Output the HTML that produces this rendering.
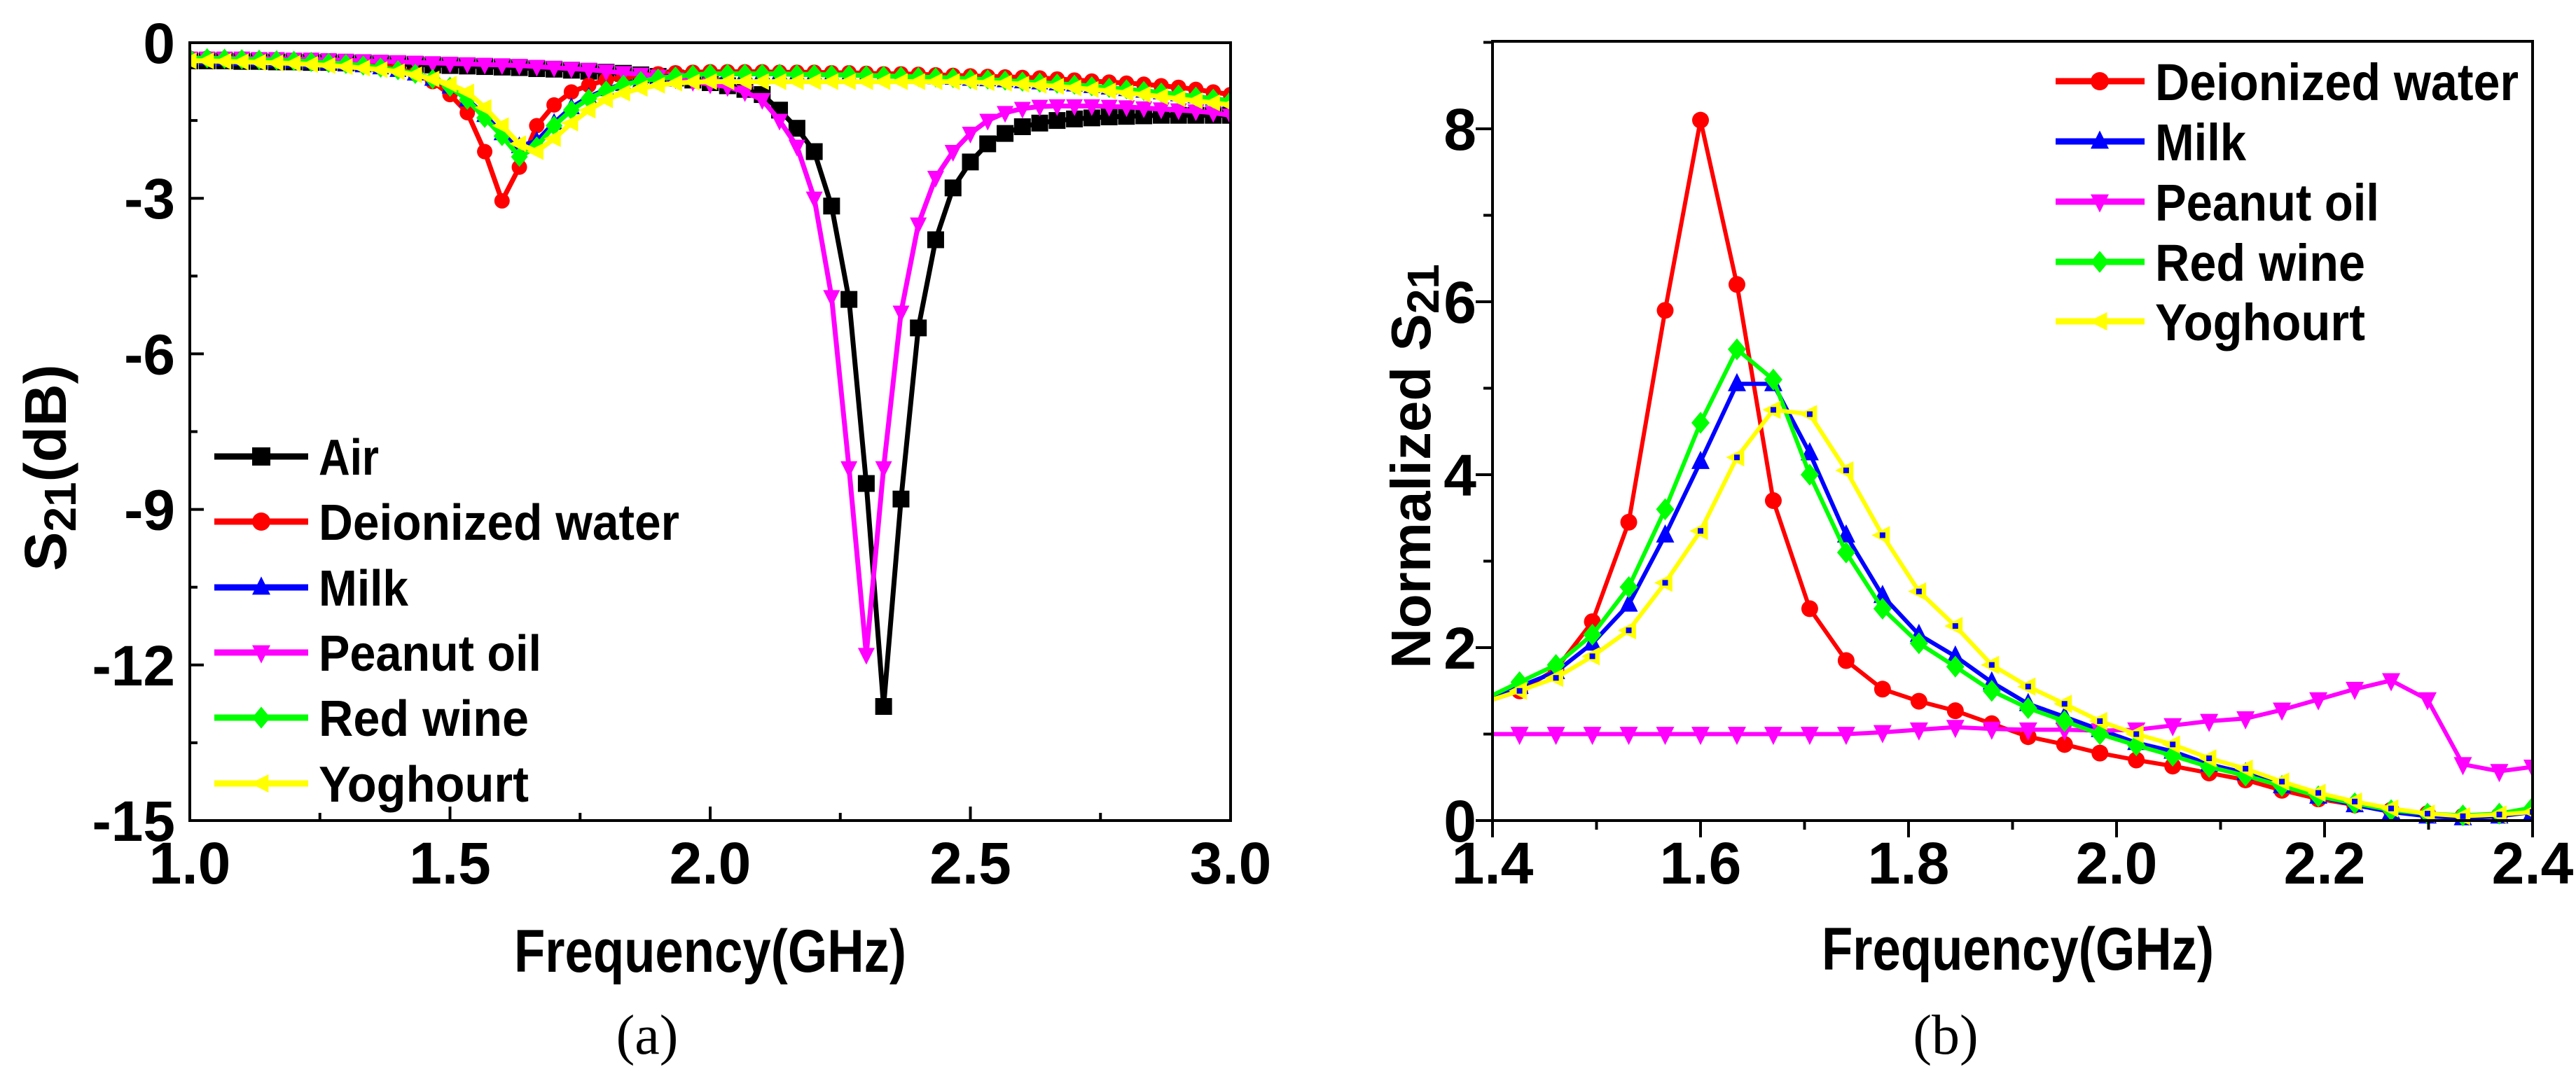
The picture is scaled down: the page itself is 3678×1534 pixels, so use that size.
<!DOCTYPE html>
<html><head><meta charset="utf-8"><style>
html,body{margin:0;padding:0;background:#fff;}
svg{display:block;}
text{font-family:"Liberation Sans",Arial,sans-serif;font-weight:bold;fill:#000;}
.cap{font-family:"Liberation Serif",serif;font-weight:normal;}
</style></head><body>
<svg id="fig" width="3678" height="1534" viewBox="0 0 3678 1534" xmlns="http://www.w3.org/2000/svg"></svg>
<script>
// ---------- Chart (a) data ----------
const freqA = Array.from({length:61},(_,i)=>+(1+i/30).toFixed(4));
const airA = [-0.35,-0.35,-0.35,-0.36,-0.36,-0.37,-0.37,-0.38,-0.38,-0.39,-0.39,-0.40,-0.41,-0.42,-0.43,
-0.44,-0.45,-0.46,-0.47,-0.48,-0.50,-0.51,-0.53,-0.55,-0.57,-0.59,-0.62,-0.65,-0.68,-0.72,
-0.77,-0.83,-0.9,-1.0,-1.3,-1.65,-2.1,-3.15,-4.95,-8.5,-12.8,-8.8,-5.5,-3.8,-2.8,-2.3,-1.95,-1.75,-1.62,-1.55,-1.5,-1.47,-1.45,-1.43,-1.42,-1.41,-1.4,-1.4,-1.4,-1.4,-1.4];
const waterA = [-0.3,-0.3,-0.31,-0.31,-0.32,-0.33,-0.34,-0.35,-0.37,-0.39,-0.41,-0.44,-0.5,-0.6,-0.75,
-1.0,-1.35,-2.1,-3.05,-2.4,-1.6,-1.2,-0.95,-0.82,-0.72,-0.67,-0.63,-0.6,-0.58,-0.57,
-0.56,-0.56,-0.56,-0.56,-0.57,-0.57,-0.57,-0.58,-0.58,-0.59,-0.6,-0.6,-0.61,-0.62,-0.63,
-0.64,-0.65,-0.66,-0.67,-0.68,-0.7,-0.72,-0.74,-0.76,-0.78,-0.8,-0.83,-0.86,-0.9,-0.95,-1.0];
const milkA = [-0.3,-0.3,-0.31,-0.32,-0.33,-0.34,-0.35,-0.37,-0.39,-0.41,-0.44,-0.48,-0.53,-0.6,-0.7,
-0.85,-1.1,-1.4,-1.75,-2.0,-1.9,-1.55,-1.25,-1.05,-0.9,-0.8,-0.73,-0.68,-0.64,-0.62,
-0.6,-0.6,-0.6,-0.6,-0.6,-0.61,-0.61,-0.62,-0.62,-0.63,-0.64,-0.65,-0.66,-0.67,-0.68,
-0.7,-0.71,-0.73,-0.75,-0.77,-0.79,-0.81,-0.84,-0.87,-0.9,-0.93,-0.96,-1.0,-1.04,-1.08,-1.12];
const peanutA = [-0.3,-0.3,-0.3,-0.3,-0.31,-0.31,-0.32,-0.32,-0.33,-0.34,-0.35,-0.36,-0.37,-0.38,-0.39,
-0.4,-0.41,-0.42,-0.43,-0.44,-0.46,-0.48,-0.5,-0.52,-0.55,-0.58,-0.61,-0.65,-0.7,-0.75,
-0.8,-0.85,-0.95,-1.1,-1.5,-2.0,-3.0,-4.9,-8.2,-11.8,-8.2,-5.2,-3.5,-2.6,-2.1,-1.75,-1.5,-1.35,-1.27,-1.23,-1.22,-1.22,-1.22,-1.23,-1.24,-1.26,-1.28,-1.3,-1.32,-1.35,-1.4];
const wineA = [-0.3,-0.3,-0.31,-0.32,-0.33,-0.34,-0.35,-0.37,-0.39,-0.41,-0.44,-0.48,-0.53,-0.6,-0.7,
-0.85,-1.1,-1.45,-1.8,-2.2,-2.0,-1.6,-1.3,-1.08,-0.92,-0.81,-0.74,-0.69,-0.65,-0.62,
-0.6,-0.6,-0.6,-0.6,-0.6,-0.61,-0.61,-0.62,-0.62,-0.63,-0.64,-0.65,-0.66,-0.67,-0.68,
-0.7,-0.71,-0.73,-0.75,-0.77,-0.79,-0.81,-0.84,-0.87,-0.9,-0.93,-0.96,-1.0,-1.04,-1.08,-1.12];
const yogA = [-0.35,-0.35,-0.36,-0.37,-0.38,-0.39,-0.4,-0.42,-0.44,-0.46,-0.49,-0.52,-0.56,-0.62,-0.7,
-0.8,-0.95,-1.25,-1.6,-1.95,-2.1,-1.85,-1.55,-1.3,-1.1,-0.97,-0.88,-0.82,-0.78,-0.76,
-0.75,-0.75,-0.75,-0.75,-0.75,-0.75,-0.75,-0.75,-0.75,-0.75,-0.75,-0.75,-0.75,-0.75,-0.75,
-0.76,-0.77,-0.78,-0.8,-0.82,-0.84,-0.87,-0.9,-0.93,-0.97,-1.0,-1.04,-1.08,-1.12,-1.16,-1.2];
const xTicksA = ["1.0","1.5","2.0","2.5","3.0"];
const yTicksA = ["0","-3","-6","-9","-12","-15"];

// ---------- Chart (b) data ----------
const freqB = [1.40,1.426,1.461,1.496,1.531,1.566,1.600,1.635,1.670,1.705,1.740,1.775,1.810,1.845,1.880,1.915,1.950,1.984,2.019,2.054,2.089,2.124,2.159,2.194,2.229,2.264,2.299,2.333,2.368,2.400];
const waterB = [1.4,1.5,1.75,2.3,3.45,5.9,8.1,6.2,3.7,2.45,1.85,1.52,1.38,1.27,1.12,0.97,0.88,0.78,0.70,0.63,0.55,0.47,0.35,0.25,0.18,0.12,0.08,0.05,0.06,0.1];
const milkB = [1.45,1.55,1.72,2.05,2.5,3.3,4.15,5.05,5.05,4.25,3.3,2.6,2.15,1.9,1.6,1.35,1.2,1.05,0.9,0.8,0.65,0.55,0.4,0.28,0.18,0.1,0.05,0.03,0.05,0.1];
const peanutB = [1.0,1.0,1.0,1.0,1.0,1.0,1.0,1.0,1.0,1.0,1.0,1.02,1.05,1.08,1.06,1.05,1.05,1.04,1.05,1.1,1.15,1.18,1.28,1.4,1.52,1.62,1.4,0.65,0.57,0.62];
const wineB = [1.45,1.6,1.8,2.15,2.7,3.6,4.6,5.45,5.1,4.0,3.1,2.45,2.05,1.78,1.5,1.3,1.15,1.0,0.87,0.75,0.62,0.52,0.4,0.28,0.2,0.12,0.08,0.06,0.08,0.15];
const yogB = [1.4,1.5,1.65,1.9,2.2,2.75,3.35,4.2,4.75,4.7,4.05,3.3,2.65,2.25,1.8,1.55,1.35,1.15,1.0,0.88,0.72,0.6,0.45,0.32,0.22,0.14,0.08,0.05,0.07,0.1];
const xTicksB = ["1.4","1.6","1.8","2.0","2.2","2.4"];
const yTicksB = ["0","2","4","6","8"];

const NS="http://www.w3.org/2000/svg";
const svg=document.getElementById('fig');
function mk(tag,attrs,parent){const e=document.createElementNS(NS,tag);for(const k in attrs)e.setAttribute(k,attrs[k]);(parent||svg).appendChild(e);return e;}

const A={x0:271,x1:1757,y0:61,y1:1172,fmin:1,fmax:3,vmax:0,vmin:-15};
const B={x0:2131,x1:3616,y0:59,y1:1172,fmin:1.4,fmax:2.4};
const xA=f=>A.x0+(f-A.fmin)/(A.fmax-A.fmin)*(A.x1-A.x0);
const yA=v=>A.y0+(A.vmax-v)/(A.vmax-A.vmin)*(A.y1-A.y0);
const xB=f=>B.x0+(f-B.fmin)/(B.fmax-B.fmin)*(B.x1-B.x0);
const yB=v=>B.y1-v*123.5;

function marker(g,type,x,y,color,s){
  let e;
  if(type==='square'){e=mk('rect',{x:x-s,y:y-s,width:2*s,height:2*s,fill:color},g);}
  else if(type==='circle'){e=mk('circle',{cx:x,cy:y,r:s,fill:color},g);}
  else if(type==='up'){e=mk('polygon',{points:`${x},${y-s*1.2} ${x-s},${y+s*0.8} ${x+s},${y+s*0.8}`,fill:color},g);}
  else if(type==='down'){e=mk('polygon',{points:`${x},${y+s*1.2} ${x-s},${y-s*0.8} ${x+s},${y-s*0.8}`,fill:color},g);}
  else if(type==='diamond'){e=mk('polygon',{points:`${x},${y-s*1.2} ${x+s},${y} ${x},${y+s*1.2} ${x-s},${y}`,fill:color},g);}
  else {e=mk('polygon',{points:`${x-s*1.2},${y} ${x+s*0.8},${y-s} ${x+s*0.8},${y+s}`,fill:color},g);}
  
  
  return e;
}
function series(name,fx,fy,xs,ys,color,type,s,skipFirst,extra,sw){
  const g=mk('g',{});
  
  
  const pts=xs.map((f,i)=>fx(f).toFixed(1)+','+fy(ys[i]).toFixed(1)).join(' ');
  mk('polyline',{points:pts,fill:'none',stroke:color,'stroke-width':sw||6,'stroke-linejoin':'round'},g);
  xs.forEach((f,i)=>{ if(skipFirst&&i===0)return; marker(g,type,fx(f),fy(ys[i]),color,s);
    if(extra){mk('rect',{x:fx(f)-4,y:fy(ys[i])-4,width:8,height:8,fill:extra},g);}});
}
function seriesIn(parent,...args){series(...args);parent.appendChild(svg.lastChild);}

// ---------- Panel (a) ----------
const clipA=mk('clipPath',{id:'clipA'});mk('rect',{x:A.x0,y:A.y0-15,width:A.x1-A.x0,height:A.y1-A.y0+15},clipA);
const gA=mk('g',{'clip-path':'url(#clipA)'});


seriesIn(gA,'series-air',xA,yA,freqA,airA,'#000','square',12,false,null,7);
seriesIn(gA,'series-deionized-water',xA,yA,freqA,waterA,'#ff0000','circle',11,false,null,7);
seriesIn(gA,'series-milk',xA,yA,freqA,milkA,'#0000ff','up',12,false,null,7);
seriesIn(gA,'series-peanut-oil',xA,yA,freqA,peanutA,'#ff00ff','down',12,false,null,7);
seriesIn(gA,'series-red-wine',xA,yA,freqA,wineA,'#00ff00','diamond',12,false,null,7);
seriesIn(gA,'series-yoghourt',xA,yA,freqA,yogA,'#ffff00','left',12,false,null,7);

let frA=mk('rect',{x:A.x0,y:A.y0,width:A.x1-A.x0,height:A.y1-A.y0,fill:'none',stroke:'#000','stroke-width':4});

for(let i=0;i<=8;i++){const f=1+i*0.25,x=xA(f),L=i%2===0?20:11;mk('line',{x1:x,y1:A.y1,x2:x,y2:A.y1-L,stroke:'#000','stroke-width':4});}
for(let i=0;i<=10;i++){const v=-i*1.5,y=yA(v),L=i%2===0?20:11;mk('line',{x1:A.x0,y1:y,x2:A.x0+L,y2:y,stroke:'#000','stroke-width':4});}
xTicksA.forEach(t=>{const e=mk('text',{x:xA(+t),y:1262,'text-anchor':'middle','font-size':84});e.textContent=t;
 });
yTicksA.forEach(t=>{const e=mk('text',{x:250,y:yA(+t)+29,'text-anchor':'end','font-size':82});e.textContent=t;
 });
let t1=mk('text',{x:1014,y:1388,'text-anchor':'middle','font-size':86,textLength:560,lengthAdjust:'spacingAndGlyphs'});t1.textContent='Frequency(GHz)';

let t2=mk('text',{transform:'translate(94,668) rotate(-90)','text-anchor':'middle','font-size':84});
t2.innerHTML='S<tspan font-size="64" dy="14">21</tspan><tspan dy="-14">(dB)</tspan>';


const legA=[['Air','#000','square'],['Deionized water','#ff0000','circle'],['Milk','#0000ff','up'],['Peanut oil','#ff00ff','down'],['Red wine','#00ff00','diamond'],['Yoghourt','#ffff00','left']];
const legRowsA=[652,745,839,932,1025,1119];
const gLA=mk('g',{});
legA.forEach((d,i)=>{const y=legRowsA[i];const g=mk('g',{},gLA);
 
 mk('line',{x1:306,y1:y,x2:440,y2:y,stroke:d[1],'stroke-width':9},g);marker(g,d[2],373,y,d[1],13);
 const tw={'Air':86,'Deionized water':515,'Milk':128,'Peanut oil':318,'Red wine':300,'Yoghourt':300}[d[0]];
 const e=mk('text',{x:455,y:y+26,'font-size':72,textLength:tw,lengthAdjust:'spacingAndGlyphs'},g);e.textContent=d[0];});

// ---------- Panel (b) ----------
const clipB=mk('clipPath',{id:'clipB'});mk('rect',{x:B.x0,y:B.y0,width:B.x1-B.x0,height:B.y1-B.y0+12},clipB);
const gB=mk('g',{'clip-path':'url(#clipB)'});


seriesIn(gB,'series-deionized-water-b',xB,yB,freqB,waterB,'#ff0000','circle',12,true);
seriesIn(gB,'series-milk-b',xB,yB,freqB,milkB,'#0000ff','up',13,true);
seriesIn(gB,'series-peanut-oil-b',xB,yB,freqB,peanutB,'#ff00ff','down',13,true);
seriesIn(gB,'series-red-wine-b',xB,yB,freqB,wineB,'#00ff00','diamond',13,true);
seriesIn(gB,'series-yoghourt-b',xB,yB,freqB,yogB,'#ffff00','left',13,true,'#0000ff');

let frB=mk('rect',{x:B.x0,y:B.y0,width:B.x1-B.x0,height:B.y1-B.y0,fill:'none',stroke:'#000','stroke-width':4});

for(let i=0;i<=10;i++){const f=1.4+i*0.1,x=xB(f),L=i%2===0?24:13;mk('line',{x1:x,y1:B.y1,x2:x,y2:B.y1+L,stroke:'#000','stroke-width':4});}
for(let i=0;i<=9;i++){const y=yB(i),L=i%2===0?24:13;mk('line',{x1:B.x0,y1:y,x2:B.x0-L,y2:y,stroke:'#000','stroke-width':4});}
xTicksB.forEach(t=>{const e=mk('text',{x:xB(+t),y:1262,'text-anchor':'middle','font-size':84});e.textContent=t;
 });
yTicksB.forEach(t=>{const e=mk('text',{x:2108,y:yB(+t)+30,'text-anchor':'end','font-size':84});e.textContent=t;
 });
let t3=mk('text',{x:2881,y:1385,'text-anchor':'middle','font-size':86,textLength:560,lengthAdjust:'spacingAndGlyphs'});t3.textContent='Frequency(GHz)';

let t4=mk('text',{transform:'translate(2042,666) rotate(-90)','text-anchor':'middle','font-size':80});
t4.innerHTML='Normalized  S<tspan font-size="64" dy="12">21</tspan>';


const legB=[['Deionized water','#ff0000','circle',519],['Milk','#0000ff','up',130],['Peanut oil','#ff00ff','down',320],['Red wine','#00ff00','diamond',300],['Yoghourt','#ffff00','left',300]];
const legRowsB=[116,202,288,374,459];
const gLB=mk('g',{});
legB.forEach((d,i)=>{const y=legRowsB[i];const g=mk('g',{},gLB);
 
 mk('line',{x1:2935,y1:y,x2:3062,y2:y,stroke:d[1],'stroke-width':9},g);marker(g,d[2],2998,y,d[1],13);
 const e=mk('text',{x:3077,y:y+27,'font-size':74,textLength:d[3],lengthAdjust:'spacingAndGlyphs'},g);e.textContent=d[0];});

let c1=mk('text',{x:924,y:1505,'text-anchor':'middle','font-size':80,class:'cap'});c1.textContent='(a)';

let c2=mk('text',{x:2778,y:1505,'text-anchor':'middle','font-size':80,class:'cap'});c2.textContent='(b)';

</script>
</body></html>
